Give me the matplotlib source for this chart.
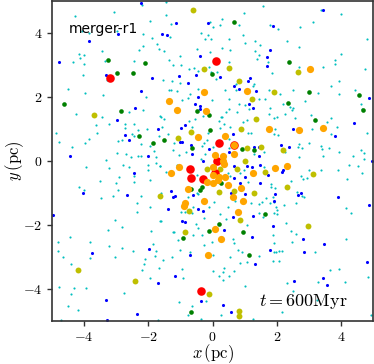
import numpy as np
import matplotlib
matplotlib.use("Agg")
import matplotlib.pyplot as plt

plt.rcParams["mathtext.fontset"] = "cm"
plt.rcParams["font.family"] = "serif"
plt.rcParams["font.serif"] = ["cmr10", "DejaVu Serif"]
plt.rcParams["axes.formatter.use_mathtext"] = True

# star positions (pc), grouped by mass bin
red_pts = [(-3.20, 2.60), (0.10, 3.13), (0.21, 0.55), (0.68, 0.50), (0.125, -0.01),
           (-0.71, -0.26), (-0.67, -0.52), (-0.30, -0.55), (0.08, -0.38), (-0.35, -4.05)]

orange_pts = [(1.08, 2.20), (-0.25, 2.16), (-1.34, 1.875), (-1.10, 1.59), (-0.21, 1.57),
              (-0.44, 0.76), (0.385, 0.78), (0.68, 0.50), (0.08, 0.18), (0.32, 0.16),
              (0.68, 0.22), (3.05, 2.87), (1.75, 1.0), (2.68, 0.98), (3.44, 1.04),
              (-1.29, -0.375), (-1.05, -0.20), (-0.17, -0.67), (0.01, -0.18), (0.365, -0.09),
              (0.0, -0.43), (0.17, -0.59), (0.40, -0.49), (0.03, -0.70), (-0.77, -0.885),
              (0.49, -0.76), (-0.865, -1.31), (-0.875, -1.40), (-0.27, -1.25), (0.08, -2.11),
              (0.26, -2.43), (-0.125, -2.94), (1.26, -0.365), (0.90, -0.85), (0.625, -1.115),
              (0.96, -1.26), (0.80, -1.60), (1.94, -0.21), (2.32, -0.16), (0.33, 0.0),
              (0.21, -0.49)]

olive_pts = [(-3.68, 1.44), (-0.62, 4.71), (-0.25, 2.89), (0.51, 2.92), (0.83, 2.49),
             (1.22, 1.94), (1.37, 1.31), (0.90, 0.99), (-0.67, 0.92), (-1.07, 0.71),
             (1.08, 0.40), (1.5, 0.44), (1.0, 0.0), (2.67, 2.78), (1.91, 2.17),
             (2.20, 0.34), (-1.65, -1.08), (-4.19, -3.41), (-2.41, -3.75), (-0.17, -0.26),
             (0.22, -0.25), (0.19, -0.98), (-0.73, -1.55), (-0.85, -2.21), (-0.11, -4.15),
             (0.84, -4.69), (0.84, -4.83), (0.76, -0.26), (1.625, -0.33), (0.68, -0.93),
             (1.30, -1.01), (0.85, -1.85), (3.14, -0.41), (2.32, -0.80), (2.97, -2.04)]

green_pts = [(-3.26, 3.17), (-2.11, 3.06), (-2.97, 2.76), (-2.49, 2.76), (-4.63, 1.77),
             (-2.84, 1.55), (-2.28, 0.77), (-1.85, 0.57), (0.66, 4.35), (-0.03, 2.72),
             (-0.49, 1.55), (-0.10, 1.43), (-0.07, 0.97), (-1.51, 0.66), (-0.625, 0.415),
             (1.29, 0.35), (0.91, 0.385), (2.39, 3.08), (3.0, 2.17), (4.55, 2.07),
             (2.35, 1.81), (4.70, 1.59), (3.18, 1.27), (0.25, -0.68), (-0.32, -0.82),
             (-0.375, -0.91), (-0.66, -0.865), (0.21, -1.97), (-0.11, -2.19), (-0.91, -2.41),
             (0.95, -2.21), (1.125, -2.94), (-0.67, -4.73), (1.65, -1.66)]

blue_pts = [(-2.24, 4.95), (-2.93, 3.96), (-3.85, 3.74), (-4.79, 3.08), (-3.32, 2.70),
            (-1.875, 2.58), (-2.22, 2.2), (-2.41, 1.66), (-2.97, 1.27), (-1.71, 1.0),
            (-2.73, 0.82), (-2.60, 0.66), (-4.44, 0.17), (-2.0, 0.15),
            (-1.125, 4.31), (-0.15, 4.30), (-1.56, 3.96), (-1.41, 3.93), (-0.385, 3.28),
            (-0.5, 2.68), (-1.03, 2.65), (0.24, 2.63), (-0.75, 2.43), (1.16, 2.58),
            (1.11, 2.5), (0.67, 2.34), (0.83, 2.24), (1.34, 2.18), (-0.44, 1.99),
            (-0.54, 1.77), (-0.40, 1.73), (1.13, 1.77), (1.25, 1.65), (-0.385, 1.625),
            (-0.85, 1.125), (-0.98, 1.04), (0.65, 0.84), (-1.02, 0.58), (-0.96, 0.58),
            (1.30, 0.44), (1.44, 0.44), (-0.67, 0.49), (-0.10, 0.385), (0.52, 0.29),
            (0.365, 0.20), (1.44, 0.16), (-0.635, 0.23), (-0.29, -0.01),
            (3.43, 4.71), (1.90, 4.23), (1.78, 3.48), (1.70, 3.24), (1.70, 2.97),
            (4.87, 1.97), (4.41, 1.18), (2.52, 1.0), (3.82, 0.77), (2.12, 0.49),
            (2.38, 0.44), (4.97, 0.01),
            (-2.43, -0.385), (-4.02, -1.0), (-2.66, -1.05), (-4.96, -1.68), (-1.97, -2.76),
            (-3.74, -2.88), (-1.71, -3.81), (-3.31, -4.33), (-2.35, -4.77), (-3.28, -4.98),
            (-1.30, -0.94), (-1.17, -1.10), (-1.22, -1.13), (-0.60, -1.07), (-1.385, -1.51),
            (-0.44, -1.51), (-0.30, -1.57), (-0.96, -1.865), (-0.865, -1.90), (0.36, -2.16),
            (-0.70, -2.94), (1.31, -3.22), (-1.18, -3.60), (-0.35, -4.37), (0.34, -4.51),
            (0.57, -4.73), (0.67, -0.16), (1.08, -0.15), (1.23, -0.20), (1.48, -0.125),
            (1.02, -0.51), (0.68, -0.54), (0.855, -0.69), (1.47, -0.70), (1.0, -1.03),
            (0.59, -1.01), (0.64, -1.74), (1.26, -1.71), (1.24, -2.36),
            (1.73, -0.45), (2.17, -0.33), (2.20, -0.28), (1.94, -1.02), (2.66, -1.05),
            (2.76, -1.0), (3.92, -1.125), (1.92, -1.24), (4.875, -1.38), (1.87, -2.03),
            (2.82, -2.43), (3.47, -2.60), (1.80, -2.79), (2.85, -2.85), (4.81, -3.15),
            (3.44, -3.67), (2.53, -3.75), (3.56, -3.88)]

cyan_pts = [
    # upper left
    (-2.19, 4.88), (-4.28, 4.54), (-3.08, 4.67), (-1.95, 4.38), (-4.06, 4.07), (-3.85, 4.01),
    (-2.99, 4.07), (-2.16, 3.96), (-1.89, 3.84), (-1.74, 3.65), (-1.66, 3.5), (-2.17, 3.58),
    (-2.28, 3.47), (-3.45, 3.44), (-4.16, 3.33), (-4.0, 3.31), (-4.13, 3.23), (-4.34, 3.10),
    (-4.0, 3.04), (-3.34, 3.13), (-2.43, 3.13), (-4.03, 2.70), (-3.30, 2.52), (-4.5, 2.26),
    (-3.98, 2.11), (-3.42, 2.07), (-2.07, 2.0), (-4.25, 1.47), (-3.43, 1.38), (-2.59, 1.54),
    (-2.16, 1.58), (-1.65, 1.41), (-3.22, 1.17), (-3.64, 1.13), (-2.73, 1.16), (-2.44, 1.17),
    (-2.73, 1.02), (-2.04, 1.01), (-3.59, 0.89), (-2.31, 0.97), (-2.51, 0.83), (-2.44, 0.79),
    (-1.66, 0.79), (-4.875, 0.89), (-4.77, 0.60), (-3.84, 0.70), (-2.93, 0.64), (-2.81, 0.65),
    (-3.98, 0.56), (-1.96, 0.47), (-2.23, 0.53), (-4.375, 0.45), (-1.81, 0.31), (-2.99, 0.26),
    (-2.68, 0.23), (-2.53, 0.14), (-2.33, 0.17), (-2.24, 0.15), (-3.33, 0.04), (-1.77, 0.14),
    # upper centre
    (-1.46, 4.98), (1.58, 4.84), (-1.46, 4.56), (-1.30, 4.28), (-0.07, 4.35), (0.29, 4.43),
    (0.81, 4.26), (0.97, 4.64), (0.22, 4.25), (0.01, 4.2), (-1.31, 3.89), (-0.37, 4.0),
    (-0.125, 3.95), (-0.22, 3.80), (-0.06, 3.80), (0.51, 3.81), (0.95, 3.93), (1.02, 3.70),
    (1.31, 3.75), (1.48, 3.63), (-1.52, 3.45), (-0.49, 3.49), (-0.07, 3.41), (0.31, 3.52),
    (0.54, 3.47), (1.33, 3.45), (1.44, 3.32), (-1.02, 3.28), (-1.35, 3.16), (1.39, 3.18),
    (0.51, 3.08), (-1.23, 3.01), (-0.97, 3.01), (-0.58, 2.92), (-0.72, 2.89), (-0.10, 2.95),
    (-0.46, 2.82), (-0.04, 2.79), (0.14, 2.79), (0.10, 2.55), (-1.53, 2.53), (-1.26, 2.50),
    (1.29, 2.40), (1.27, 2.34), (0.74, 2.40), (0.72, 2.22), (-1.01, 2.45), (-1.37, 2.22),
    (-1.28, 2.22), (-0.46, 2.26), (-1.11, 2.19), (0.40, 2.22), (-0.69, 2.08), (-0.77, 1.98),
    (1.45, 1.93), (1.625, 1.93), (0.5, 1.93), (-0.94, 1.91), (-0.02, 1.90), (0.81, 1.77),
    (1.02, 1.76), (0.51, 1.625), (1.125, 1.625), (0.77, 1.52), (0.41, 1.53), (0.25, 1.375),
    (0.29, 1.38), (-1.60, 1.39), (-0.31, 1.41), (-1.51, 1.31), (-0.56, 1.30), (-0.73, 1.24),
    (0.95, 1.22), (1.06, 1.27), (0.19, 1.26), (0.35, 1.16), (-0.635, 1.06), (-1.58, 1.07),
    (0.54, 1.05), (-0.15, 0.875), (0.23, 1.02), (1.10, 0.875), (1.19, 0.86), (-1.375, 0.83),
    (0.51, 0.69), (-0.16, 0.67), (-1.20, 0.57), (-0.27, 0.57), (0.01, 0.45), (0.5, 0.415),
    (-0.32, 0.48), (1.59, 0.29), (-1.23, 0.34), (-1.04, 0.18), (-0.82, 0.29), (-0.37, 0.05),
    (-0.23, 0.21), (1.30, 0.21),
    # upper right
    (3.37, 4.71), (3.99, 4.58), (3.13, 4.34), (1.78, 4.25), (2.03, 4.125), (2.74, 4.20),
    (2.32, 3.76), (4.80, 3.80), (2.70, 3.57), (4.01, 3.33), (1.74, 3.09), (3.82, 3.16),
    (3.82, 3.04), (2.68, 2.95), (3.45, 2.95), (4.75, 2.87), (1.85, 2.76), (3.93, 2.5),
    (3.69, 2.33), (1.75, 2.22), (2.5, 2.21), (2.11, 2.08), (3.28, 2.125), (3.93, 2.09),
    (4.43, 2.23), (2.875, 1.88), (2.19, 1.77), (4.625, 1.77), (4.65, 1.625), (2.41, 1.68),
    (2.51, 1.67), (2.49, 1.59), (1.79, 1.67), (1.77, 1.47), (2.25, 1.47), (3.08, 1.44),
    (2.0, 1.375), (1.92, 1.33), (2.57, 1.35), (3.70, 1.33), (3.58, 1.22), (3.11, 0.99),
    (3.87, 1.05), (1.96, 0.99), (1.93, 0.85), (2.05, 0.80), (3.68, 0.85), (4.80, 0.885),
    (3.02, 0.57), (2.71, 0.52), (2.67, 0.45), (2.78, 0.41), (3.37, 0.47), (3.41, 0.365),
    (3.63, 0.415), (2.27, 0.28), (3.95, 0.27), (4.62, 0.34), (4.71, 0.24), (3.45, 0.17),
    (4.375, 0.17), (2.68, 0.125), (4.72, 0.07),
    # lower left
    (-3.95, -0.19), (-3.23, -0.21), (-2.79, -0.125), (-2.61, -0.19), (-2.02, -0.125),
    (-1.77, -0.07), (-1.65, -0.16), (-2.45, -0.47), (-2.0, -0.29), (-2.90, -0.49),
    (-3.49, -0.635), (-3.01, -0.68), (-2.45, -0.66), (-1.95, -0.59), (-4.17, -0.81),
    (-4.01, -0.92), (-2.94, -0.91), (-3.09, -1.09), (-2.23, -1.09), (-3.48, -1.17),
    (-2.35, -1.30), (-1.96, -1.44), (-2.35, -1.59), (-3.04, -1.84), (-2.83, -2.06),
    (-3.25, -2.15), (-1.93, -2.18), (-1.65, -1.875), (-4.44, -2.36), (-4.81, -2.52),
    (-3.82, -2.52), (-3.22, -2.66), (-2.82, -2.72), (-2.49, -2.80), (-1.84, -2.59),
    (-1.75, -2.81), (-4.81, -2.80), (-3.82, -3.04), (-4.65, -3.01), (-3.05, -3.01),
    (-2.09, -3.05), (-1.78, -2.97), (-4.42, -3.22), (-2.125, -3.22), (-1.66, -3.35),
    (-2.19, -3.41), (-1.95, -3.65), (-4.79, -3.93), (-4.31, -3.96), (-3.94, -3.96),
    (-4.41, -4.17), (-2.77, -4.14), (-4.51, -4.53), (-4.19, -4.66), (-4.71, -4.97),
    (-1.69, -4.97),
    # lower centre
    (-1.63, -0.17), (-1.45, -0.33), (-1.11, -0.115), (-0.48, -0.45), (-1.60, -0.99),
    (-0.49, -0.99), (-0.44, -1.04), (-0.75, -1.11), (0.06, -1.28), (-0.98, -1.59),
    (-0.85, -1.59), (-0.625, -1.61), (-0.615, -1.43), (-0.10, -1.45), (0.22, -1.66),
    (0.47, -1.43), (-1.60, -1.865), (-0.52, -1.98), (-0.28, -1.77), (0.41, -1.80),
    (-1.24, -2.23), (-1.20, -2.23), (-0.44, -2.10), (-0.615, -2.31), (-0.33, -2.31),
    (-0.26, -2.625), (-0.02, -2.52), (0.625, -2.43), (0.66, -2.57), (-1.08, -2.47),
    (-1.0, -2.78), (-0.70, -2.83), (-1.25, -2.99), (-1.54, -3.09), (0.03, -2.94),
    (0.79, -2.78), (0.92, -2.83), (1.44, -2.96), (0.53, -2.99), (0.87, -3.18),
    (1.07, -3.15), (-0.94, -3.375), (0.35, -3.33), (0.32, -3.47), (0.66, -3.44),
    (0.01, -3.44), (-0.906, -3.65), (0.21, -3.58), (0.52, -3.59), (0.32, -3.73),
    (1.0, -3.90), (-0.19, -4.375), (-0.625, -4.53), (-1.05, -4.40), (-0.77, -4.81),
    (0.25, -4.80), (1.26, -4.93), (-0.35, -4.95), (1.61, -0.19), (0.86, -0.365),
    (0.98, -0.28), (0.47, -0.385), (0.53, -0.47), (1.10, -0.67), (0.71, -1.24),
    (1.19, -1.30), (1.44, -1.35), (1.55, -1.28), (1.46, -1.635), (1.58, -1.76),
    (1.08, -2.0),
    # lower right
    (3.01, -0.28), (3.375, -0.29), (4.25, -0.115), (4.54, -0.15), (3.92, -0.29),
    (4.66, -0.385), (2.77, -0.46), (2.81, -0.57), (2.94, -0.54), (4.19, -0.56),
    (2.45, -0.635), (1.82, -0.72), (1.81, -0.82), (1.96, -0.84), (2.625, -0.97),
    (2.80, -1.09), (2.84, -1.115), (1.89, -1.13), (1.68, -1.17), (1.78, -1.30),
    (1.92, -1.27), (2.59, -1.32), (2.23, -1.38), (1.97, -1.44), (4.15, -1.48),
    (2.02, -1.54), (1.92, -1.635), (2.02, -1.67), (4.33, -1.625), (2.30, -1.94),
    (2.44, -2.18), (2.59, -2.28), (1.89, -2.32), (4.16, -2.45), (2.49, -2.53),
    (1.92, -2.55), (1.91, -2.85), (1.99, -2.84), (2.07, -2.80), (2.16, -2.80),
    (3.19, -2.83), (1.89, -3.125), (2.06, -3.115), (3.94, -3.36), (3.66, -3.41),
    (4.83, -3.63), (3.28, -3.79), (4.125, -3.78), (2.33, -3.80), (2.5, -4.06),
    (3.24, -4.35), (2.16, -4.72), (4.93, -4.80),
]

# light stars first, heavy ones on top (red under orange for the ringed pair)
groups = [
    (cyan_pts, "#00bfbf", 2.4),
    (blue_pts, "#0000ff", 5),
    (green_pts, "#008000", 11),
    (olive_pts, "#bfbf00", 18),
    (red_pts, "#ff0000", 38),
    (orange_pts, "#ffa500", 27),
]

ticks = [-4, -2, 0, 2, 4]

fig = plt.figure(figsize=(3.74, 3.64), dpi=100)
ax = fig.add_axes([52 / 374, 43 / 364, 321 / 374, 320 / 364])

for pts, col, size in groups:
    p = np.array(pts)
    ax.scatter(p[:, 0], p[:, 1], s=size, c=col, linewidths=0)

ax.set_xlim(-5, 5); ax.set_ylim(-5, 5)
ax.set_xticks(ticks); ax.set_yticks(ticks)
ax.tick_params(labelsize=10, color="#333333", length=3.5, width=1)
for sp in ax.spines.values():
    sp.set_color("#333333"); sp.set_linewidth(1.2)

ax.set_xlabel(r"$x\,({\rm pc})$", fontsize=12, labelpad=-1)
ax.set_ylabel(r"$y\,({\rm pc})$", fontsize=12, labelpad=-2)

ax.text(0.052, 0.90, "merger-r1", transform=ax.transAxes, fontsize=10,
        family="DejaVu Sans", va="baseline", ha="left")
ax.text(0.92, 0.047, r"$t = 600{\rm Myr}$", transform=ax.transAxes,
        fontsize=13, va="baseline", ha="right")

fig.savefig("out.png", dpi=100)
